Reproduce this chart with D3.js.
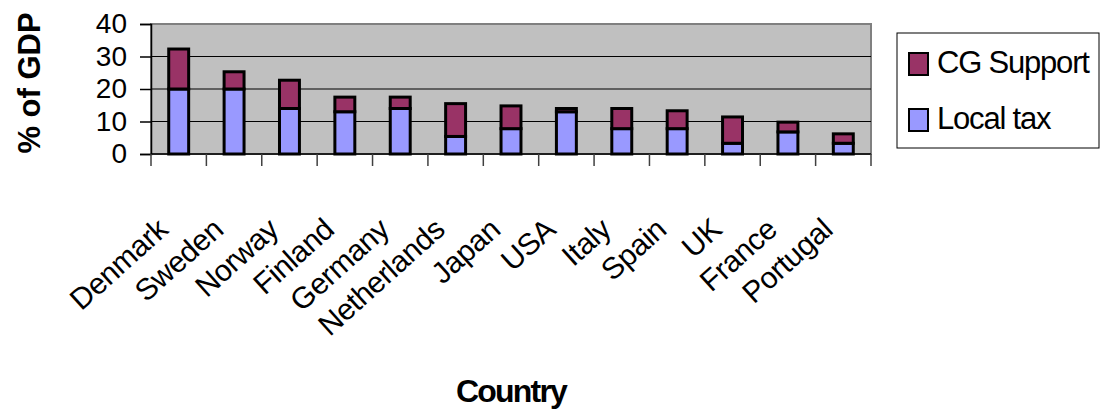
<!DOCTYPE html>
<html><head><meta charset="utf-8">
<script src="https://cdn.jsdelivr.net/npm/d3@7"></script>
<style>body{margin:0;background:#fff;} text{font-family:Arial,"Liberation Sans",sans-serif;}</style>
</head><body>
<svg id="c" width="1106" height="413"></svg>
<script>
const countries = ["Denmark","Sweden","Norway","Finland","Germany","Netherlands","Japan","USA","Italy","Spain","UK","France","Portugal"];
const localTax  = [20, 20, 14, 13, 14, 5.4, 7.8, 13, 7.8, 7.8, 3.3, 6.8, 3.3];
const cgSupport = [12.3, 5.3, 8.7, 4.5, 3.5, 10.1, 7, 1, 6.2, 5.5, 8.1, 3, 2.9];
const yTicks = [0, 10, 20, 30, 40];
const seriesNames = ["CG Support", "Local tax"];
const colors = {"CG Support": "#993366", "Local tax": "#9999FF"};

const svg = d3.select("#c");
const L = 151, R = 871, T = 24, B = 154;
const x = d3.scaleBand().domain(countries).range([L, R]).paddingInner(0).paddingOuter(0);
const y = d3.scaleLinear().domain([0, 40]).range([B, T]);

// plot background
svg.append("rect").attr("x", L).attr("y", T).attr("width", R - L).attr("height", B - T)
  .attr("fill", "#C0C0C0").attr("stroke", "#808080").attr("stroke-width", 2);

// gridlines
svg.append("g").selectAll("line").data(yTicks.filter(d => d > 0 && d < 40)).join("line")
  .attr("x1", L).attr("x2", R).attr("y1", d => y(d)).attr("y2", d => y(d))
  .attr("stroke", "#000").attr("stroke-width", 1);

// bars
const bw = x.bandwidth() * 0.36;
const g = svg.append("g");
countries.forEach((c, i) => {
  const cx = x(c) + x.bandwidth() / 2;
  const lt = localTax[i], cg = cgSupport[i];
  g.append("rect").attr("x", cx - bw / 2).attr("width", bw)
    .attr("y", y(lt)).attr("height", y(0) - y(lt))
    .attr("fill", colors["Local tax"]).attr("stroke", "#000").attr("stroke-width", 3);
  g.append("rect").attr("x", cx - bw / 2).attr("width", bw)
    .attr("y", y(lt + cg)).attr("height", y(lt) - y(lt + cg))
    .attr("fill", colors["CG Support"]).attr("stroke", "#000").attr("stroke-width", 3);
});

// y axis
const ya = svg.append("g").attr("transform", `translate(${L},0)`)
  .call(d3.axisLeft(y).tickValues(yTicks).tickSize(11).tickPadding(13).tickFormat(d3.format("d")));
ya.select(".domain").attr("stroke", "#000").attr("stroke-width", 1.5);
ya.selectAll(".tick line").attr("stroke", "#000").attr("stroke-width", 1.5);
ya.selectAll(".tick text").attr("font-size", 28).attr("fill", "#000")
  .attr("font-family", "Arial, 'Liberation Sans', sans-serif");

// x axis line & ticks at boundaries
svg.append("line").attr("x1", L).attr("x2", R).attr("y1", B).attr("y2", B)
  .attr("stroke", "#000").attr("stroke-width", 1.5);
const bounds = countries.map(c => x(c)).concat([R]);
svg.append("g").selectAll("line").data(bounds).join("line")
  .attr("x1", d => d).attr("x2", d => d).attr("y1", B).attr("y2", B + 12)
  .attr("stroke", "#404040").attr("stroke-width", 1.5);

// x labels
svg.append("g").selectAll("text").data(countries).join("text")
  .attr("transform", d => `translate(${x(d) + x.bandwidth() / 2 - 9},232) rotate(-42)`)
  .attr("text-anchor", "end").attr("font-size", 30).attr("fill", "#000")
  .attr("letter-spacing", "-0.4")
  .text(d => d);

// axis titles
svg.append("text").attr("transform", "translate(40,83) rotate(-90)")
  .attr("text-anchor", "middle").attr("font-size", 31).attr("font-weight", "bold").text("% of GDP");
svg.append("text").attr("x", 511).attr("y", 402).attr("text-anchor", "middle")
  .attr("font-size", 32).attr("font-weight", "bold").attr("letter-spacing", "-1.8").text("Country");

// legend
svg.append("rect").attr("x", 897).attr("y", 33).attr("width", 202).attr("height", 115)
  .attr("fill", "#fff").attr("stroke", "#000").attr("stroke-width", 1);
const lg = svg.append("g").selectAll("g").data(seriesNames).join("g")
  .attr("transform", (d, i) => `translate(908,${52 + i * 56})`);
lg.append("rect").attr("x", 1).attr("y", 1).attr("width", 19).attr("height", 22)
  .attr("fill", d => colors[d]).attr("stroke", "#000").attr("stroke-width", 2);
lg.append("text").attr("x", 29).attr("y", 21).attr("font-size", 31).attr("letter-spacing", "-1.2")
  .attr("fill", "#000").text(d => d);
</script>
</body></html>
